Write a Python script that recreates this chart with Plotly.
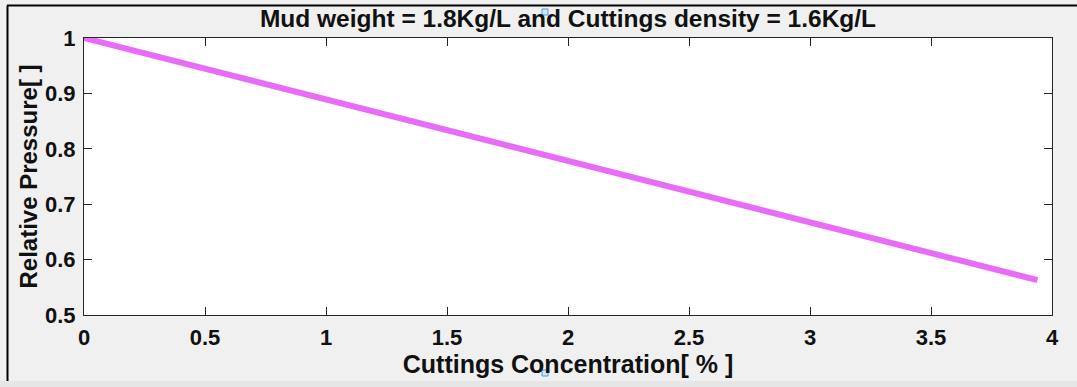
import plotly.graph_objects as go

# Relative pressure vs. cuttings concentration
concentration = [0.0, 3.94]          # Cuttings Concentration [%]
relative_pressure = [1.0, 0.563]     # Relative Pressure [ ]

x_ticks = [0, 0.5, 1, 1.5, 2, 2.5, 3, 3.5, 4]
x_tick_text = ["0", "0.5", "1", "1.5", "2", "2.5", "3", "3.5", "4"]
y_ticks = [0.5, 0.6, 0.7, 0.8, 0.9, 1.0]
y_tick_text = ["0.5", "0.6", "0.7", "0.8", "0.9", "1"]

W, H = 1077, 387
L, R, T, B = 84, 1052, 38, 315  # axes box in pixels

FONT = "Liberation Sans, Arial, Helvetica, sans-serif"
BG = "#f0f0f0"
AX = "#262626"
TXT = "#111111"


def px_x(p):
    return (p - L) / (R - L)


def px_y(p):
    return (B - p) / (B - T)


fig = go.Figure()
fig.add_trace(go.Scatter(
    x=concentration, y=relative_pressure, mode="lines",
    line=dict(color="#e86cf7", width=6),
    showlegend=False, hoverinfo="skip",
))

axis_common = dict(
    showgrid=False, zeroline=False, showline=True, linecolor=AX, linewidth=1,
    mirror="ticks", ticks="inside", ticklen=8, tickcolor=AX, tickwidth=1,
    tickfont=dict(family=FONT, size=22, color=TXT, weight="bold"),
    ticklabelstandoff=3,
)

fig.update_layout(
    width=W, height=H,
    margin=dict(l=L, r=W - R, t=T, b=H - B),
    paper_bgcolor=BG, plot_bgcolor="white",
    xaxis=dict(range=[0, 4], tickvals=x_ticks, ticktext=x_tick_text,
               title=dict(text="Cuttings Concentration[ % ]", standoff=2,
                          font=dict(family=FONT, size=25, color=TXT, weight="bold")),
               **axis_common),
    yaxis=dict(range=[0.5, 1.0], tickvals=y_ticks, ticktext=y_tick_text,
               title=dict(text="Relative Pressure[ ]", standoff=0,
                          font=dict(family=FONT, size=24, color=TXT, weight="bold")),
               **axis_common),
    title=dict(text="Mud weight = 1.8Kg/L and Cuttings density = 1.6Kg/L",
               x=0.5, xanchor="center", xref="paper",
               y=1 - 18 / H, yanchor="middle", yref="container",
               font=dict(family=FONT, size=24.5, color=TXT, weight="bold")),
)

# figure frame: bottom band, top and left border lines
fig.add_shape(type="rect", xref="paper", yref="paper", layer="below",
              x0=px_x(0), x1=px_x(W), y0=px_y(H), y1=px_y(381),
              fillcolor="#e6e6e6", line=dict(width=0))
fig.add_shape(type="line", xref="paper", yref="paper",
              x0=px_x(7), x1=px_x(W), y0=px_y(5.5), y1=px_y(5.5),
              line=dict(color="#000000", width=2))
fig.add_shape(type="line", xref="paper", yref="paper",
              x0=px_x(7.5), x1=px_x(7.5), y0=px_y(5.5), y1=px_y(381),
              line=dict(color="#000000", width=2))

# small selection handles on the title and the x label
for cy in (12, 373):
    fig.add_shape(type="rect", xref="paper", yref="paper",
                  x0=px_x(542), x1=px_x(548), y0=px_y(cy + 3), y1=px_y(cy - 3),
                  fillcolor="#cfe6fb", line=dict(color="#4a9be6", width=1))

fig.write_html("out.html")
